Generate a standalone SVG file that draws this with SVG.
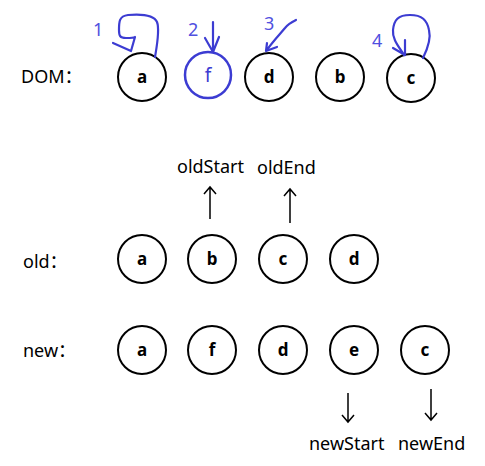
<svg xmlns="http://www.w3.org/2000/svg" width="485" height="466" viewBox="0 0 485 466">
<style>
.n{fill:#fff;stroke:#000;stroke-width:2}
.nl{font-family:"Noto Sans","Noto Sans CJK SC",sans-serif;font-size:17px;font-weight:bold;text-anchor:middle;fill:#000}
.lbl{font-family:"Noto Sans","Noto Sans CJK SC",sans-serif;font-size:18px;fill:#000}
.blue{fill:none;stroke:#3c3cd2;stroke-width:2.2;stroke-linecap:round;stroke-linejoin:round}
.num{font-family:"Noto Sans","Noto Sans CJK SC",sans-serif;font-size:18px;fill:#5050e0}
.ar{fill:none;stroke:#000;stroke-width:1.5}
</style>
<rect width="485" height="466" fill="#fff"/>
<text class="lbl" x="21" y="83">DOM：</text>
<text class="lbl" x="23" y="268">old：</text>
<text class="lbl" x="23" y="357">new：</text>

<g id="dom-a"><circle class="n" cx="142" cy="77" r="24"/><text class="nl" x="142" y="83">a</text></g>
<g id="dom-f"><circle cx="208" cy="75" r="23" fill="#fff" stroke="#3c3cd2" stroke-width="2.5"/><text x="208" y="82" font-family="Noto Sans,sans-serif" font-size="19" text-anchor="middle" fill="#3c3cd2">f</text></g>
<g id="dom-d"><circle class="n" cx="269" cy="77" r="24"/><text class="nl" x="269" y="83">d</text></g>
<g id="dom-b"><circle class="n" cx="340" cy="77" r="24"/><text class="nl" x="340" y="83">b</text></g>
<g id="dom-c"><circle class="n" cx="411" cy="78" r="24"/><text class="nl" x="411" y="84">c</text></g>

<g id="old-a"><circle class="n" cx="142" cy="259" r="24"/><text class="nl" x="142" y="265">a</text></g>
<g id="old-b"><circle class="n" cx="212" cy="259" r="24"/><text class="nl" x="212" y="265">b</text></g>
<g id="old-c"><circle class="n" cx="283" cy="259" r="24"/><text class="nl" x="283" y="265">c</text></g>
<g id="old-d"><circle class="n" cx="354" cy="259" r="24"/><text class="nl" x="354" y="265">d</text></g>

<g id="new-a"><circle class="n" cx="142" cy="350" r="24"/><text class="nl" x="142" y="356">a</text></g>
<g id="new-f"><circle class="n" cx="212" cy="350" r="24"/><text class="nl" x="212" y="356">f</text></g>
<g id="new-d"><circle class="n" cx="283" cy="350" r="24"/><text class="nl" x="283" y="356">d</text></g>
<g id="new-e"><circle class="n" cx="354" cy="350" r="24"/><text class="nl" x="354" y="356">e</text></g>
<g id="new-c"><circle class="n" cx="425" cy="350" r="24"/><text class="nl" x="425" y="356">c</text></g>

<g id="pointers">
<text class="lbl" x="177" y="173">oldStart</text>
<text class="lbl" x="257" y="174">oldEnd</text>
<path class="ar" d="M210 219V187M204 194L210 187L216 194"/>
<path class="ar" d="M290 223V189M284 196L290 189L296 196"/>
<path class="ar" d="M348 393V422M342 415L348 422L354 415"/>
<path class="ar" d="M431 389V420M425 413L431 420L437 413"/>
<text class="lbl" x="309" y="450">newStart</text>
<text class="lbl" x="398" y="450">newEnd</text>
</g>

<g id="annotations">
<text class="num" x="93" y="36">1</text>
<path class="blue" d="M155 57C157 45 160 30 157 22C154 15 140 14 128 15C119 16 119 22 119 30C119 36 120 38 126 38C132 38 134 38 135 37L131 51M113 43L131 51"/>
<text class="num" x="188" y="36">2</text>
<path class="blue" d="M213 22L213 52M205 38L213 52L219 37"/>
<text class="num" x="264" y="30">3</text>
<path class="blue" d="M296 20C292 22 288 24 285 28C280 34 274 40 266 51M267 43L266 51L277 47"/>
<text class="num" x="372" y="47">4</text>
<path class="blue" d="M423 58C428 48 431 38 429 30C427 20 422 15 410 15C398 15 394 20 393 30C392 40 400 48 404 55M405 40L405 55M393 48L405 55"/>
</g>
</svg>
